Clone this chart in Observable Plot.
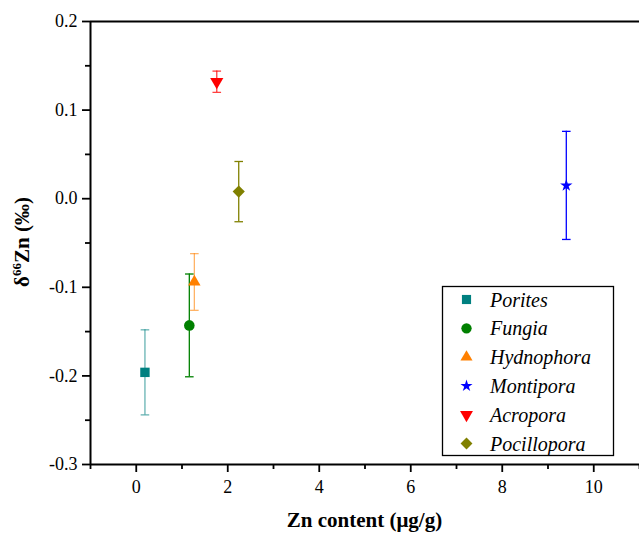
<!DOCTYPE html>
<html>
<head>
<meta charset="utf-8">
<script src="https://cdn.jsdelivr.net/npm/d3@7"></script>
<script src="https://cdn.jsdelivr.net/npm/@observablehq/plot@0.6"></script>
<style>
  body { margin: 0; background: #fff; }
  #chart { position: relative; width: 639px; height: 533px; }
  #chart svg, #chart svg text, #chart svg tspan { font-family: "Liberation Serif", "DejaVu Serif", serif !important; }
</style>
</head>
<body>
<div id="chart"></div>
<script>
// ---- data ----
const species = ["Porites", "Fungia", "Hydnophora", "Montipora", "Acropora", "Pocillopora"];
const znContent = [0.19, 1.16, 1.27, 9.40, 1.76, 2.24];
const delta66Zn = [-0.196, -0.143, -0.094, 0.015, 0.132, 0.008];
const errors = [0.048, 0.058, 0.032, 0.061, 0.012, 0.034];
const xTicks = [0, 2, 4, 6, 8, 10];
const xMinorTicks = [-1, 1, 3, 5, 7, 9, 11];
const yTicks = [-0.3, -0.2, -0.1, 0.0, 0.1, 0.2];
const yMinorTicks = [-0.25, -0.15, -0.05, 0.05, 0.15];

// ---- styles ----
const colors = ["#008080", "#008000", "#FF8000", "#0000FF", "#FF0000", "#808000"];
const barOpacity = [0.6, 1, 0.6, 1, 0.75, 1];
const markerR = [5.3, 5.3, 4.6, 3.9, 4.9, 5.5];
const triangleDown = {
  draw(ctx, size) {
    const y = -Math.sqrt(size / (Math.sqrt(3) * 3));
    ctx.moveTo(0, -2 * y);
    ctx.lineTo(-Math.sqrt(3) * y, y);
    ctx.lineTo(Math.sqrt(3) * y, y);
    ctx.closePath();
  }
};
const symbols = [d3.symbolSquare, d3.symbolCircle, d3.symbolTriangle, d3.symbolStar, triangleDown, d3.symbolDiamond2];
const cap = { draw(ctx) { ctx.moveTo(-4.3, 0); ctx.lineTo(4.3, 0); } };

const rows = species.map((s, i) => ({
  species: s, x: znContent[i], y: delta66Zn[i], e: errors[i],
  color: colors[i], op: barOpacity[i], r: markerR[i], sym: symbols[i]
}));

const serifFont = "'Liberation Serif', 'DejaVu Serif', serif";
const fmtY = d => d3.format(".1f")(d).replace("\u2212", "-");

const plot = Plot.plot({
  width: 639,
  height: 533,
  marginLeft: 90,
  marginRight: 0,
  marginTop: 21,
  marginBottom: 69,
  style: { fontFamily: serifFont, fontSize: "18px" },
  x: { domain: [-1, 11] },
  y: { domain: [-0.3, 0.2] },
  r: { type: "identity" },
  symbol: { type: "identity" },
  color: { type: "identity" },
  marks: [
    Plot.axisX(xTicks, { tickSize: 8, tickPadding: 8, strokeWidth: 1.8, fontSize: 18, label: null, tickFormat: d => String(d) }),
    Plot.axisX(xMinorTicks, { tickSize: 5, strokeWidth: 1.8, tickFormat: () => "", label: null }),
    Plot.axisY(yTicks, { tickSize: 8, tickPadding: 5, strokeWidth: 1.8, fontSize: 18, label: null, tickFormat: fmtY }),
    Plot.axisY(yMinorTicks, { tickSize: 5, strokeWidth: 1.8, tickFormat: () => "", label: null }),
    Plot.ruleX([-1], { stroke: "#000", strokeWidth: 2 }),
    Plot.ruleY([-0.3], { stroke: "#000", strokeWidth: 2 }),
    Plot.ruleY([0.2], { stroke: "#000", strokeWidth: 2 }),
    Plot.ruleX(rows, { x: "x", y1: d => d.y - d.e, y2: d => d.y + d.e, stroke: "color", strokeOpacity: "op", strokeWidth: 1.3 }),
    Plot.dot(rows, { x: "x", y: d => d.y + d.e, symbol: () => cap, r: 4, stroke: "color", strokeOpacity: "op", fill: "none", strokeWidth: 1.3 }),
    Plot.dot(rows, { x: "x", y: d => d.y - d.e, symbol: () => cap, r: 4, stroke: "color", strokeOpacity: "op", fill: "none", strokeWidth: 1.3 }),
    Plot.dot(rows, { x: "x", y: "y", symbol: "sym", r: "r", fill: "color", stroke: "none" })
  ]
});

document.getElementById("chart").appendChild(plot);

// ---- axis titles & legend ----
const svg = d3.select(plot);
svg.append("text")
  .attr("x", 364.5).attr("y", 527)
  .attr("text-anchor", "middle")
  .attr("font-weight", "bold").attr("font-size", 21)
  .attr("fill", "#000")
  .text("Zn content (\u03BCg/g)");

const yt = svg.append("text")
  .attr("transform", "translate(29,242) rotate(-90)")
  .attr("text-anchor", "middle")
  .attr("font-weight", "bold").attr("font-size", 21)
  .attr("fill", "#000");
yt.append("tspan").text("\u03B4");
yt.append("tspan").attr("font-size", 13).attr("dy", -8).text("66");
yt.append("tspan").attr("dy", 8).text("Zn (\u2030)");

const lg = svg.append("g");
lg.append("rect").attr("x", 442.5).attr("y", 286.5).attr("width", 171).attr("height", 169)
  .attr("fill", "#fff").attr("stroke", "#000").attr("stroke-width", 1.3);
rows.forEach((d, i) => {
  const cy = 299.5 + i * 28.8;
  lg.append("path")
    .attr("transform", `translate(466.5,${cy})`)
    .attr("d", d3.symbol(d.sym, Math.PI * d.r * d.r * 0.95)())
    .attr("fill", d.color);
  lg.append("text")
    .attr("x", 490).attr("y", cy).attr("dy", "0.35em")
    .attr("text-anchor", "start")
    .attr("font-style", "italic")
    .attr("font-size", 20)
    .attr("fill", "#000")
    .text(d.species);
});

svg.attr("font-family", serifFont);
svg.selectAll("g, text, tspan").attr("font-family", serifFont).style("font-family", serifFont);
</script>
</body>
</html>
